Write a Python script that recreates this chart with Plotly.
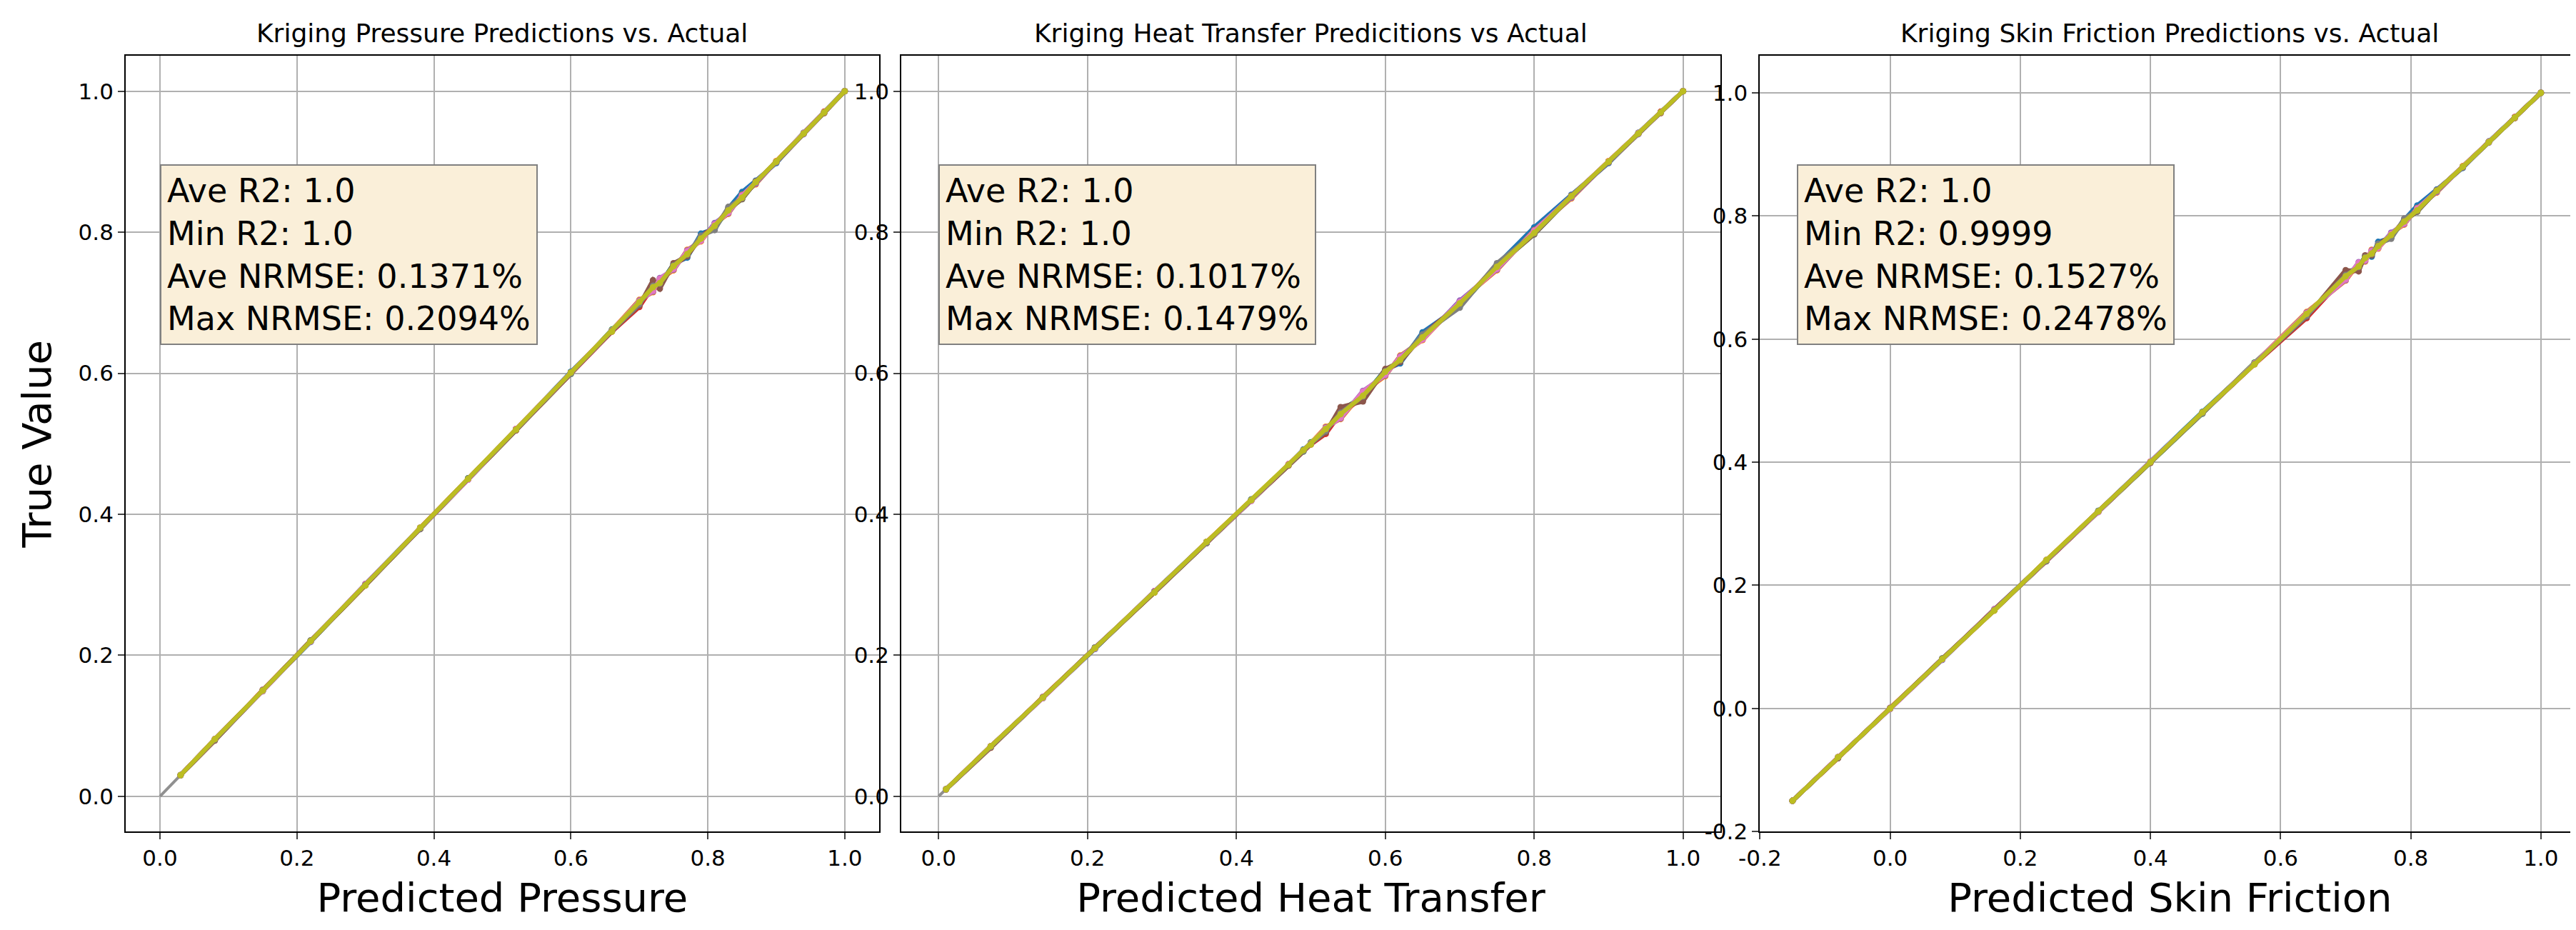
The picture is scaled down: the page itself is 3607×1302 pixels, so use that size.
import plotly.graph_objects as go

titles = ["Kriging Pressure Predictions vs. Actual",
          "Kriging Heat Transfer Predicitions vs Actual",
          "Kriging Skin Friction Predictions vs. Actual"]
xlabels = ["Predicted Pressure", "Predicted Heat Transfer", "Predicted Skin Friction"]
stats = [["Ave R2: 1.0", "Min R2: 1.0", "Ave NRMSE: 0.1371%", "Max NRMSE: 0.2094%"],
         ["Ave R2: 1.0", "Min R2: 1.0", "Ave NRMSE: 0.1017%", "Max NRMSE: 0.1479%"],
         ["Ave R2: 1.0", "Min R2: 0.9999", "Ave NRMSE: 0.1527%", "Max NRMSE: 0.2478%"]]

# predicted values (base) per panel
pred_pressure = [0.03, 0.08, 0.15, 0.22, 0.30, 0.38, 0.45, 0.52, 0.60, 0.66, 0.70, 0.72, 0.73, 0.75, 0.77, 0.79, 0.81, 0.83, 0.85, 0.87, 0.90, 0.94, 0.97, 1.00]
pred_heat = [0.01, 0.07, 0.14, 0.21, 0.29, 0.36, 0.42, 0.47, 0.49, 0.50, 0.52, 0.54, 0.57, 0.60, 0.62, 0.65, 0.70, 0.75, 0.80, 0.85, 0.90, 0.94, 0.97, 1.00]
pred_skin = [-0.15, -0.08, 0.00, 0.08, 0.16, 0.24, 0.32, 0.40, 0.48, 0.56, 0.64, 0.70, 0.72, 0.73, 0.74, 0.75, 0.77, 0.79, 0.81, 0.84, 0.88, 0.92, 0.96, 1.00]
# deviation of true value from prediction for each of nine series
dev_series = [
    [0.000, 0.001, 0.000, -0.001, 0.001, 0.000, 0.001, 0.000, 0.002, 0.000, -0.003, 0.006, -0.004, 0.005, -0.006, 0.008, -0.005, 0.004, 0.007, 0.003, -0.002, 0.001, 0.000, 0.000],
    [0.000, -0.001, 0.001, 0.000, -0.001, 0.001, 0.000, -0.001, 0.000, 0.001, 0.004, -0.005, 0.003, -0.004, 0.005, -0.003, 0.002, -0.004, 0.003, -0.002, 0.001, 0.000, -0.001, 0.000],
    [0.000, 0.000, -0.001, 0.001, 0.000, -0.001, 0.001, 0.000, -0.001, 0.002, -0.002, 0.007, -0.003, 0.004, -0.002, 0.003, -0.004, 0.002, -0.003, 0.001, 0.000, 0.001, 0.000, 0.000],
    [0.000, 0.001, 0.000, 0.000, 0.001, -0.001, 0.000, 0.001, 0.000, -0.001, -0.006, 0.003, -0.005, 0.002, -0.003, 0.004, -0.002, 0.003, -0.002, 0.002, -0.001, 0.000, 0.001, 0.000],
    [0.000, 0.000, 0.001, -0.001, 0.000, 0.001, -0.001, 0.000, 0.001, 0.000, 0.003, -0.004, 0.005, -0.003, 0.004, -0.002, 0.003, -0.003, 0.002, -0.001, 0.000, -0.001, 0.000, 0.000],
    [0.000, -0.001, 0.000, 0.001, -0.001, 0.000, 0.000, -0.001, 0.001, 0.000, -0.004, 0.012, -0.010, 0.006, -0.004, 0.003, -0.002, 0.002, -0.003, 0.001, 0.000, 0.000, -0.001, 0.000],
    [0.000, 0.001, -0.001, 0.000, 0.001, 0.000, -0.001, 0.001, 0.000, 0.001, 0.002, -0.003, 0.004, -0.002, 0.003, -0.002, 0.001, -0.002, 0.002, 0.001, 0.000, 0.001, 0.000, 0.000],
    [0.000, 0.000, 0.000, 0.001, 0.000, -0.001, 0.001, 0.000, -0.001, 0.000, -0.002, 0.004, -0.003, 0.003, -0.002, 0.005, -0.007, 0.006, -0.002, 0.002, -0.001, 0.000, 0.000, 0.000],
    [0.000, 0.001, 0.000, 0.000, -0.001, 0.001, 0.000, 0.000, 0.001, -0.001, 0.001, 0.002, -0.002, 0.002, -0.001, 0.001, -0.001, 0.001, -0.001, 0.001, 0.000, 0.000, 0.000, 0.000],
]
colors = ['#1f77b4', '#ff7f0e', '#2ca02c', '#d62728', '#9467bd', '#8c564b', '#e377c2', '#7f7f7f', '#bcbd22']
preds = [pred_pressure, pred_heat, pred_skin]
ref_start = [0.0, 0.0, -0.15]
ranges_x = [[-0.05, 1.05], [-0.05, 1.05], [-0.2, 1.06]]
ranges_y = [[-0.05, 1.05], [-0.05, 1.05], [-0.2, 1.06]]
xticks = [[0.0, 0.2, 0.4, 0.6, 0.8, 1.0], [0.0, 0.2, 0.4, 0.6, 0.8, 1.0], [-0.2, 0.0, 0.2, 0.4, 0.6, 0.8, 1.0]]
yticks = xticks

domains = [[0.0466, 0.339], [0.3477, 0.6656], [0.681, 0.9993]]
ydom = [0.112, 0.946]

fig = go.Figure()
for p in range(3):
    xa = "x" if p == 0 else f"x{p+1}"
    ya = "y" if p == 0 else f"y{p+1}"
    fig.add_trace(go.Scatter(x=[ref_start[p], 1.0], y=[ref_start[p], 1.0], mode="lines",
                             line=dict(color="#909090", width=4), xaxis=xa, yaxis=ya, showlegend=False))
    for k, dev in enumerate(dev_series):
        xs = preds[p]
        ys = [a + d for a, d in zip(xs, dev)]
        fig.add_trace(go.Scatter(x=xs, y=ys, mode="lines+markers",
                                 line=dict(color=colors[k], width=6),
                                 marker=dict(color=colors[k], size=9),
                                 xaxis=xa, yaxis=ya, showlegend=False))

axfont = dict(family="DejaVu Sans", size=31, color="black")
layout = dict(width=3607, height=1302, margin=dict(l=0, r=0, t=0, b=0, autoexpand=False),
              plot_bgcolor="white", paper_bgcolor="white", font=dict(family="DejaVu Sans"))
annotations = []
for p in range(3):
    sfx = "" if p == 0 else str(p + 1)
    common = dict(showgrid=True, gridcolor="#b0b0b0", gridwidth=2, zeroline=False,
                  showline=True, linecolor="black", linewidth=2, mirror=True, automargin=False,
                  ticks="outside", ticklen=9, tickwidth=2, tickfont=axfont)
    layout["xaxis" + sfx] = dict(common, domain=domains[p], range=ranges_x[p], tickvals=xticks[p],
                                 ticktext=[f"{v:.1f}" for v in xticks[p]], anchor="y" + sfx,
                                 title=dict(text=xlabels[p], font=dict(family="DejaVu Sans", size=56, color="black"), standoff=18))
    layout["yaxis" + sfx] = dict(common, domain=ydom, range=ranges_y[p], tickvals=yticks[p],
                                 ticktext=[f"{v:.1f}" for v in yticks[p]], anchor="x" + sfx,
                                 title=dict(text="True Value" if p == 0 else "", font=dict(family="DejaVu Sans", size=56, color="black"), standoff=20))
    annotations.append(dict(x=sum(domains[p]) / 2, y=0.953, xref="paper", yref="paper",
                            text=titles[p], showarrow=False, xanchor="center", yanchor="bottom",
                            font=dict(family="DejaVu Sans", size=36, color="black")))
    annotations.append(dict(x=ranges_x[p][0] + 0.045 * (ranges_x[p][1] - ranges_x[p][0]),
                            y=ranges_y[p][0] + 0.86 * (ranges_y[p][1] - ranges_y[p][0]),
                            xref="x" + sfx, yref="y" + sfx, text="<br>".join(stats[p]),
                            showarrow=False, xanchor="left", yanchor="top", align="left",
                            font=dict(family="DejaVu Sans", size=46, color="black"),
                            bgcolor="#faefd9", bordercolor="#808080", borderwidth=2, borderpad=8))
layout["annotations"] = annotations
fig.update_layout(**layout)
fig.write_html("out.html")
